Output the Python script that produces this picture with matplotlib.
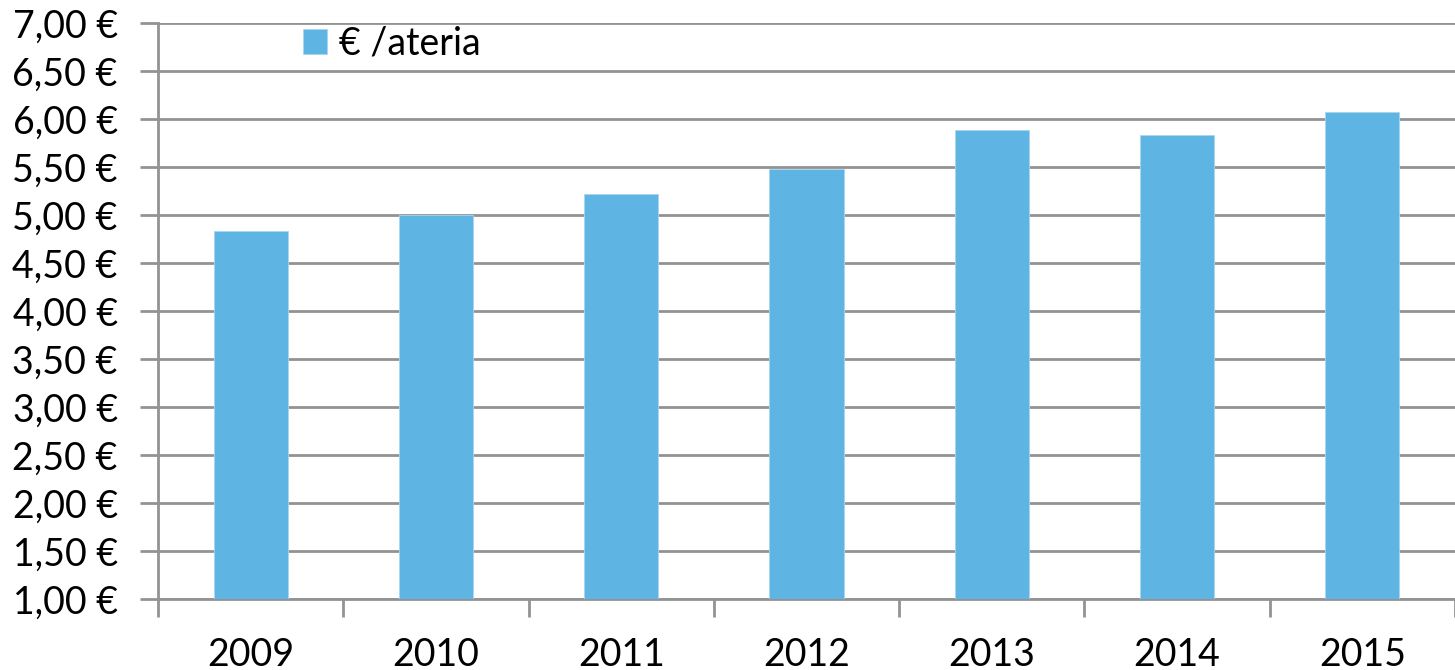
import matplotlib
matplotlib.use("Agg")
import matplotlib.pyplot as plt
import numpy as np

# datos
years = ["2009", "2010", "2011", "2012", "2013", "2014", "2015"]
eur_por_materia = [4.84, 5.00, 5.22, 5.48, 5.89, 5.84, 6.08]
y_ticks = [1.0, 1.5, 2.0, 2.5, 3.0, 3.5, 4.0, 4.5, 5.0, 5.5, 6.0, 6.5, 7.0]
serie_label = "€ /ateria"

plt.rcParams['font.family'] = ['Lato', 'DejaVu Sans']

W, H = 1455, 670
fig = plt.figure(figsize=(W / 100, H / 100), dpi=100)
ax = fig.add_axes([158 / W, 1 - 599 / H, 1 - 158 / W, (599 - 23.3) / H])

bar_color = '#5EB4E2'
grid_color = '#939393'

x = np.arange(len(years))
bars = ax.bar(x, eur_por_materia, width=0.4, color=bar_color, zorder=3,
              label=serie_label, edgecolor='#A9D6EF', linewidth=0.6)

ax.set_ylim(1.0, 7.0)
# el eje sigue más allá del borde derecho de la imagen
ax.set_xlim(-0.5, -0.5 + (W - 158) / 186.3)

ax.set_yticks(y_ticks)
ax.set_yticklabels([f"{v:.2f}".replace('.', ',') + " €" for v in y_ticks])
ax.yaxis.grid(True, color=grid_color, linewidth=2, zorder=0)
ax.tick_params(axis='y', length=13, width=2, color=grid_color, pad=16,
               labelsize=27, labelcolor='black')

# etiquetas centradas, marcas entre categorías
ax.set_xticks(x)
ax.set_xticklabels(years)
ax.set_xticks(np.arange(len(years) + 1) - 0.5, minor=True)
ax.tick_params(axis='x', which='major', length=0, pad=27, labelsize=27)
ax.tick_params(axis='x', which='minor', length=13, width=2, color=grid_color)

for s in ['top', 'right']:
    ax.spines[s].set_visible(False)
for s in ['left', 'bottom']:
    ax.spines[s].set_color(grid_color)
    ax.spines[s].set_linewidth(2)

leg = fig.legend(loc='upper left', bbox_to_anchor=(303 / W, 1 - 26 / H),
                 frameon=False, fontsize=27, handlelength=0.65,
                 handleheight=0.65, handletextpad=0.3, borderpad=0,
                 borderaxespad=0)

fig.savefig("out.png", dpi=100)
